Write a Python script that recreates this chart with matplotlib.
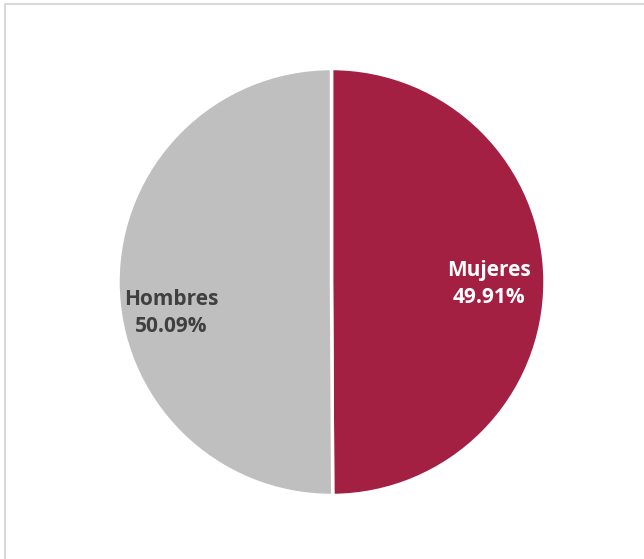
import matplotlib.pyplot as plt

labels = ['Mujeres', 'Hombres']
shares = [49.91, 50.09]
colors = ['#A32042', '#BFBFBF']
text_colors = ['white', '#404040']

W, H = 644, 559
fig = plt.figure(figsize=(W / 100, H / 100), dpi=100)
ax = fig.add_axes([0, 0, 1, 1])

# chart frame (only left and top edges visible in the crop)
ax.plot([5.5, 5.5, W + 5], [-5, H - 3.5, H - 3.5], color='#D9D9D9', lw=1.5,
        solid_capstyle='butt')

cx, cy, r = 331.5, H - 282, 213.5
wedges, _ = ax.pie(shares, colors=colors, startangle=90, counterclock=False,
                   center=(cx, cy), radius=r, frame=True,
                   wedgeprops=dict(edgecolor='white', linewidth=2.5))
ax.set_xlim(0, W)
ax.set_ylim(0, H)
ax.set_aspect('equal')
ax.axis('off')

# label offsets as fraction of radius
label_pos = [(0.738, -0.01), (-0.752, -0.145)]
for lab, val, tc, (fx, fy) in zip(labels, shares, text_colors, label_pos):
    ax.text(cx + fx * r, cy + fy * r, f'{lab}\n{val:.2f}%', color=tc,
            ha='center', va='center', fontsize=15, fontweight='bold',
            family='Open Sans', linespacing=1.4)

fig.savefig('out.png', dpi=100)
